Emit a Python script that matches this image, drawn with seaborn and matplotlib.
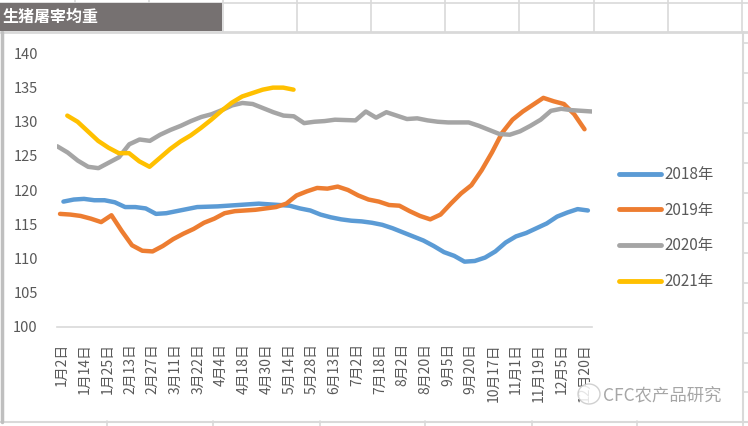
import numpy as np
import pandas as pd
import matplotlib
matplotlib.use("Agg")
import matplotlib.pyplot as plt
from matplotlib.patches import Rectangle, Ellipse
from matplotlib.lines import Line2D
import seaborn as sns

# ---------------- data ----------------
title = "生猪屠宰均重"
tick_labels = ["1月2日", "1月14日", "1月25日", "2月13日", "2月27日", "3月11日",
               "3月22日", "4月4日", "4月18日", "4月30日", "5月14日", "5月28日",
               "6月13日", "7月2日", "7月18日", "8月2日", "8月20日", "9月5日",
               "9月20日", "10月17日", "11月1日", "11月19日", "12月5日", "12月20日"]
years = ["2018年", "2019年", "2020年", "2021年"]

w2018 = [118.3, 118.6, 118.7, 118.5, 118.5, 118.2, 117.5, 117.5, 117.3, 116.5,
         116.6, 116.9, 117.2, 117.5, 117.55, 117.6, 117.7, 117.8, 117.9, 118.0,
         117.9, 117.8, 117.7, 117.3, 117.0, 116.4, 116.0, 115.7, 115.5, 115.4,
         115.2, 114.9, 114.4, 113.8, 113.2, 112.6, 111.8, 110.9, 110.35, 109.5,
         109.6, 110.1, 111.0, 112.3, 113.2, 113.7, 114.4, 115.1, 116.1, 116.7,
         117.2, 117.0]
w2019 = [116.5, 116.4, 116.2, 115.8, 115.3, 116.3, 114.0, 111.9, 111.1, 111.0,
         111.8, 112.8, 113.6, 114.3, 115.2, 115.8, 116.6, 116.9, 117.0, 117.1,
         117.3, 117.5, 118.0, 119.2, 119.8, 120.3, 120.2, 120.5, 120.0, 119.2,
         118.6, 118.3, 117.8, 117.7, 116.9, 116.2, 115.7, 116.4, 118.0, 119.5,
         120.7, 122.9, 125.5, 128.4, 130.3, 131.5, 132.5, 133.5, 133.0, 132.6,
         131.1, 128.9]
w2020 = [126.4, 125.5, 124.3, 123.4, 123.2, 124.0, 124.8, 126.7, 127.4, 127.2,
         128.1, 128.8, 129.4, 130.1, 130.7, 131.1, 131.7, 132.4, 132.75, 132.6,
         132.0, 131.4, 130.9, 130.8, 129.8, 130.0, 130.1, 130.3, 130.25, 130.2,
         131.5, 130.6, 131.4, 130.9, 130.4, 130.5, 130.2, 130.0, 129.9, 129.9,
         129.9, 129.4, 128.8, 128.2, 128.1, 128.6, 129.4, 130.3, 131.6, 131.9,
         131.7, 131.6, 131.5]
w2021 = [130.9, 130.0, 128.6, 127.2, 126.2, 125.4, 125.4, 124.2, 123.4, 124.7,
         126.0, 127.1, 128.0, 129.1, 130.3, 131.6, 132.8, 133.7, 134.2, 134.7,
         135.0, 135.0, 134.7]

series_values = {"2018年": w2018, "2019年": w2019, "2020年": w2020, "2021年": w2021}
# first-point offset of each series on the category axis (label units) and weekly step
start_offset = {"2018年": 0.06, "2019年": -0.09, "2020年": -0.21, "2021年": 0.23}
week_step = 0.453

colors = {"2018年": "#5B9BD5", "2019年": "#ED7D31", "2020年": "#A5A5A5", "2021年": "#FFC000"}

rows = []
for y in years:
    vals = series_values[y]
    for i, v in enumerate(vals):
        rows.append({"year": y, "pos": start_offset[y] + week_step * i, "value": v})
df = pd.DataFrame(rows)

# ---------------- figure ----------------
sns.set_theme(style="white")
plt.rcParams["font.family"] = ["Noto Sans CJK SC", "DejaVu Sans"]

W, H = 748, 426
fig = plt.figure(figsize=(W / 100, H / 100), dpi=100)
fig.patch.set_facecolor("white")

def fx(px):
    return px / W

def fy(py):
    return 1 - py / H

grid_c = "#D9D9D9"
# spreadsheet cell grid around the chart
for x in [75, 149]:
    fig.add_artist(Line2D([fx(x), fx(x)], [fy(0), fy(3)], color=grid_c, lw=1.2))
for x in [222.5, 297, 371, 445, 519, 594, 668, 742]:
    fig.add_artist(Line2D([fx(x), fx(x)], [fy(0), fy(32)], color=grid_c, lw=1.2))
fig.add_artist(Line2D([0, 1], [fy(2.5), fy(2.5)], color=grid_c, lw=1.2))
fig.add_artist(Line2D([0, 1], [fy(32), fy(32)], color=grid_c, lw=2))
for x in [107, 213, 320, 425, 532, 637, 743]:
    fig.add_artist(Line2D([fx(x), fx(x)], [fy(421), fy(426)], color=grid_c, lw=1.2))
fig.add_artist(Line2D([0, 1], [fy(421.5), fy(421.5)], color=grid_c, lw=1.5))
for yy in [43, 73, 103, 133, 163, 193, 223, 253, 283, 303, 333, 363, 392]:
    fig.add_artist(Line2D([fx(743), 1], [fy(yy), fy(yy)], color=grid_c, lw=1.2))
# chart frame
fig.add_artist(Line2D([fx(743), fx(743)], [fy(32), fy(421.5)], color=grid_c, lw=1.5))
fig.add_artist(Line2D([fx(2), fx(2)], [fy(32), fy(421.5)], color="#BFBFBF", lw=2.5))

# title bar
fig.add_artist(Rectangle((0, fy(31)), fx(222), fy(3) - fy(31),
                         facecolor="#767171", edgecolor="none", zorder=5))
fig.text(fx(3), fy(17), title, color="white", fontsize=11.5, fontweight="bold",
         va="center", ha="left", zorder=6)

# main axes
ax = fig.add_axes([fx(57.3), fy(326.5), fx(591.7) - fx(57.3), fy(53.5) - fy(326.5)])
ax.set_facecolor("none")
sns.lineplot(data=df, x="pos", y="value", hue="year", palette=colors,
             linewidth=3.2, legend=False, sort=False, ax=ax,
             estimator=None, units="year")
for ln in ax.lines:
    ln.set_solid_capstyle("round")
    ln.set_solid_joinstyle("round")

ax.set_xlim(-0.21, 23.33)
ax.set_ylim(100, 140)
ax.set_yticks(np.arange(100, 141, 5))
ax.set_xticks(np.arange(len(tick_labels)))
ax.set_xticklabels(tick_labels, rotation=90, fontsize=10, color="#595959")
ax.tick_params(axis="y", length=0, pad=14, labelsize=10.5, labelcolor="#595959")
ax.tick_params(axis="x", length=0, pad=12)
ax.set_xlabel("")
ax.set_ylabel("")
for s in ["left", "right", "top"]:
    ax.spines[s].set_visible(False)
ax.spines["bottom"].set_color(grid_c)
ax.spines["bottom"].set_linewidth(1.2)

# legend
handles = [Line2D([0], [0], color=colors[y], lw=3.5, solid_capstyle="round") for y in years]
fig.legend(handles, years, loc="upper left", bbox_to_anchor=(fx(619), fy(166)),
           frameon=False, fontsize=11, handlelength=2.75, handletextpad=0.2,
           labelspacing=1.22, borderpad=0, borderaxespad=0, labelcolor="#595959")

# watermark
fig.add_artist(Ellipse((fx(589), fy(394)), fx(22), 20 / H, facecolor="white",
                       edgecolor="#C8C8C8", lw=1.0, alpha=0.85, zorder=10))
fig.text(fx(603), fy(395), "CFC农产品研究", color="#A6A6A6", fontsize=12.5,
         va="center", ha="left", zorder=10)

fig.savefig("out.png", dpi=100)
